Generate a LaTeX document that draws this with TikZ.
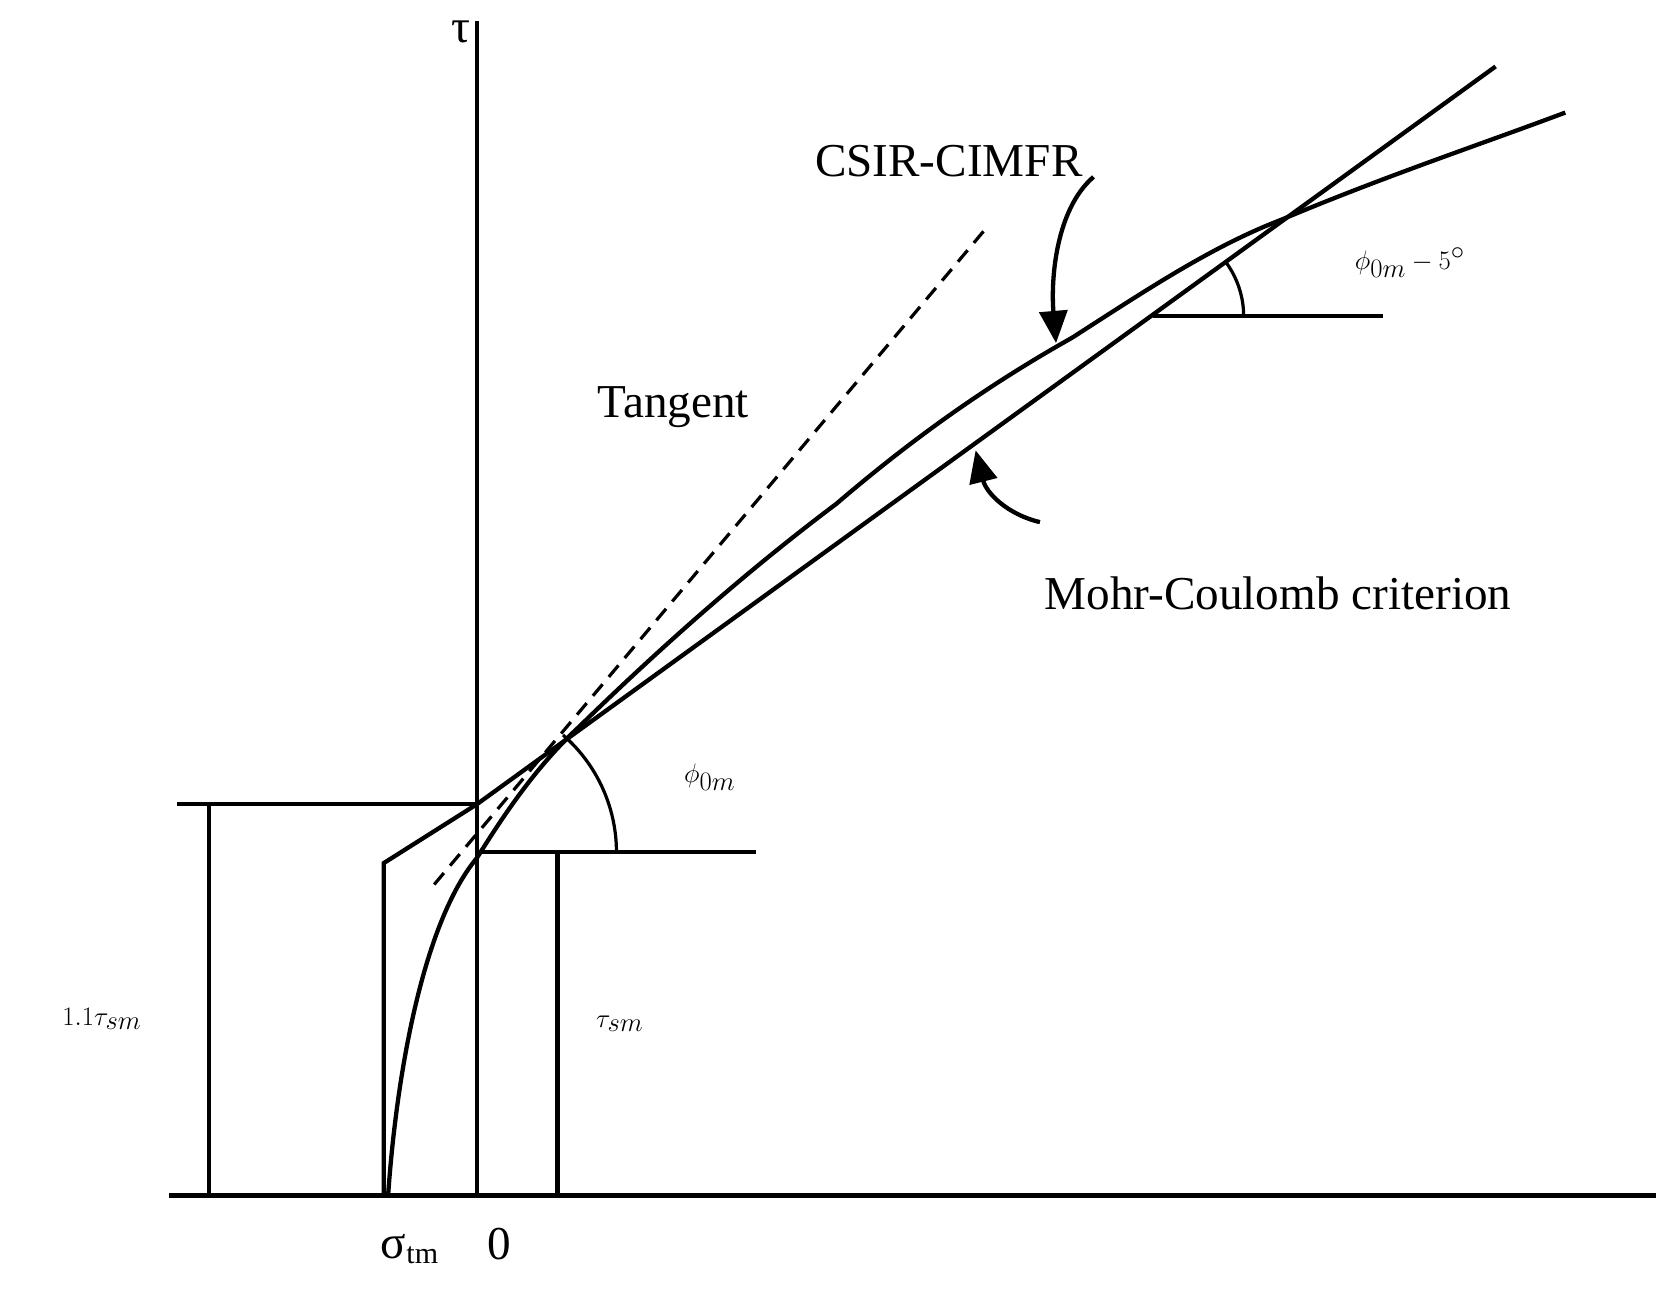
\documentclass[tikz,border=0pt]{standalone}
\usepackage{fontspec}
\setmainfont{Liberation Serif}
\usetikzlibrary{arrows.meta}
\begin{document}
\begin{tikzpicture}[x=1pt,y=-1pt,
  ln/.style={line width=4pt},
  lbl/.style={font=\fontsize{44}{50}\selectfont},
  arr/.style={line width=4pt,-{Triangle[length=30pt,width=26pt]}}]
\useasboundingbox (0,0) rectangle (1567,1212);
% axes
\draw[ln] (445,20) -- (445,1115);
\draw[ln] (158,1115) -- (1545,1115);
\node[lbl] (tau) at (430,30) {τ};
% 1.1 tau sm
\draw[ln] (165,750) -- (445,750);
\draw[ln] (195,750) -- (195,1115);
\node[lbl] (l11) at (95,950) {$1.1\tau_{sm}$};
% tau sm
\draw[ln] (445,795) -- (705,795);
\draw[ln] (520,795) -- (520,1115);
\node[lbl] (lsm) at (578,955) {$\tau_{sm}$};
% Mohr-Coulomb piecewise
\draw[ln,line join=miter] (358,1115) -- (358,805) -- (445,750) -- (1395,62);
\draw[ln] (1075,295) -- (1290,295);
% CSIR curve
\draw[ln] (362,1115) .. controls (370,1000) and (395,860) .. (445,800)
  .. controls (470,760) and (500,715) .. (540,678)
  .. controls (620,600) and (700,530) .. (780,470)
  .. controls (850,410) and (920,360) .. (1000,315)
  .. controls (1070,270) and (1130,230) .. (1195,205)
  .. controls (1290,165) and (1380,135) .. (1460,105);
% tangent
\draw[line width=3pt,dash pattern=on 14pt off 9pt] (405,825) -- (918,215);
% angles
\draw[line width=3pt] (575,795) arc[start angle=0,end angle=-49,radius=145];
\node[lbl] (phi) at (662,725) {$\phi_{0m}$};
\draw[line width=3pt] (1160,295) arc[start angle=0,end angle=-36,radius=85];
\node[lbl] (phi5) at (1315,245) {$\phi_{0m}-5^{\circ}$};
% labels and arrows
\node[lbl] (csir) at (885,150) {CSIR-CIMFR};
\coordinate (c1) at (1020,165);
\coordinate (c2) at (985,320);
\draw[arr] (c1) .. controls (985,195) and (980,260) .. (c2);
\node[lbl] (tang) at (628,380) {Tangent};
\node[lbl] (mc) at (1192,553) {Mohr-Coulomb criterion};
\coordinate (m1) at (970,487);
\coordinate (m2) at (910,420);
\draw[arr] (m1) .. controls (940,480) and (920,460) .. (m2);
\node[lbl] (sig) at (382,1165) {σ\raisebox{-0.25ex}{\fontsize{28}{30}\selectfont tm}};
\node[lbl] (zero) at (466,1160) {0};
\end{tikzpicture}
\end{document}
